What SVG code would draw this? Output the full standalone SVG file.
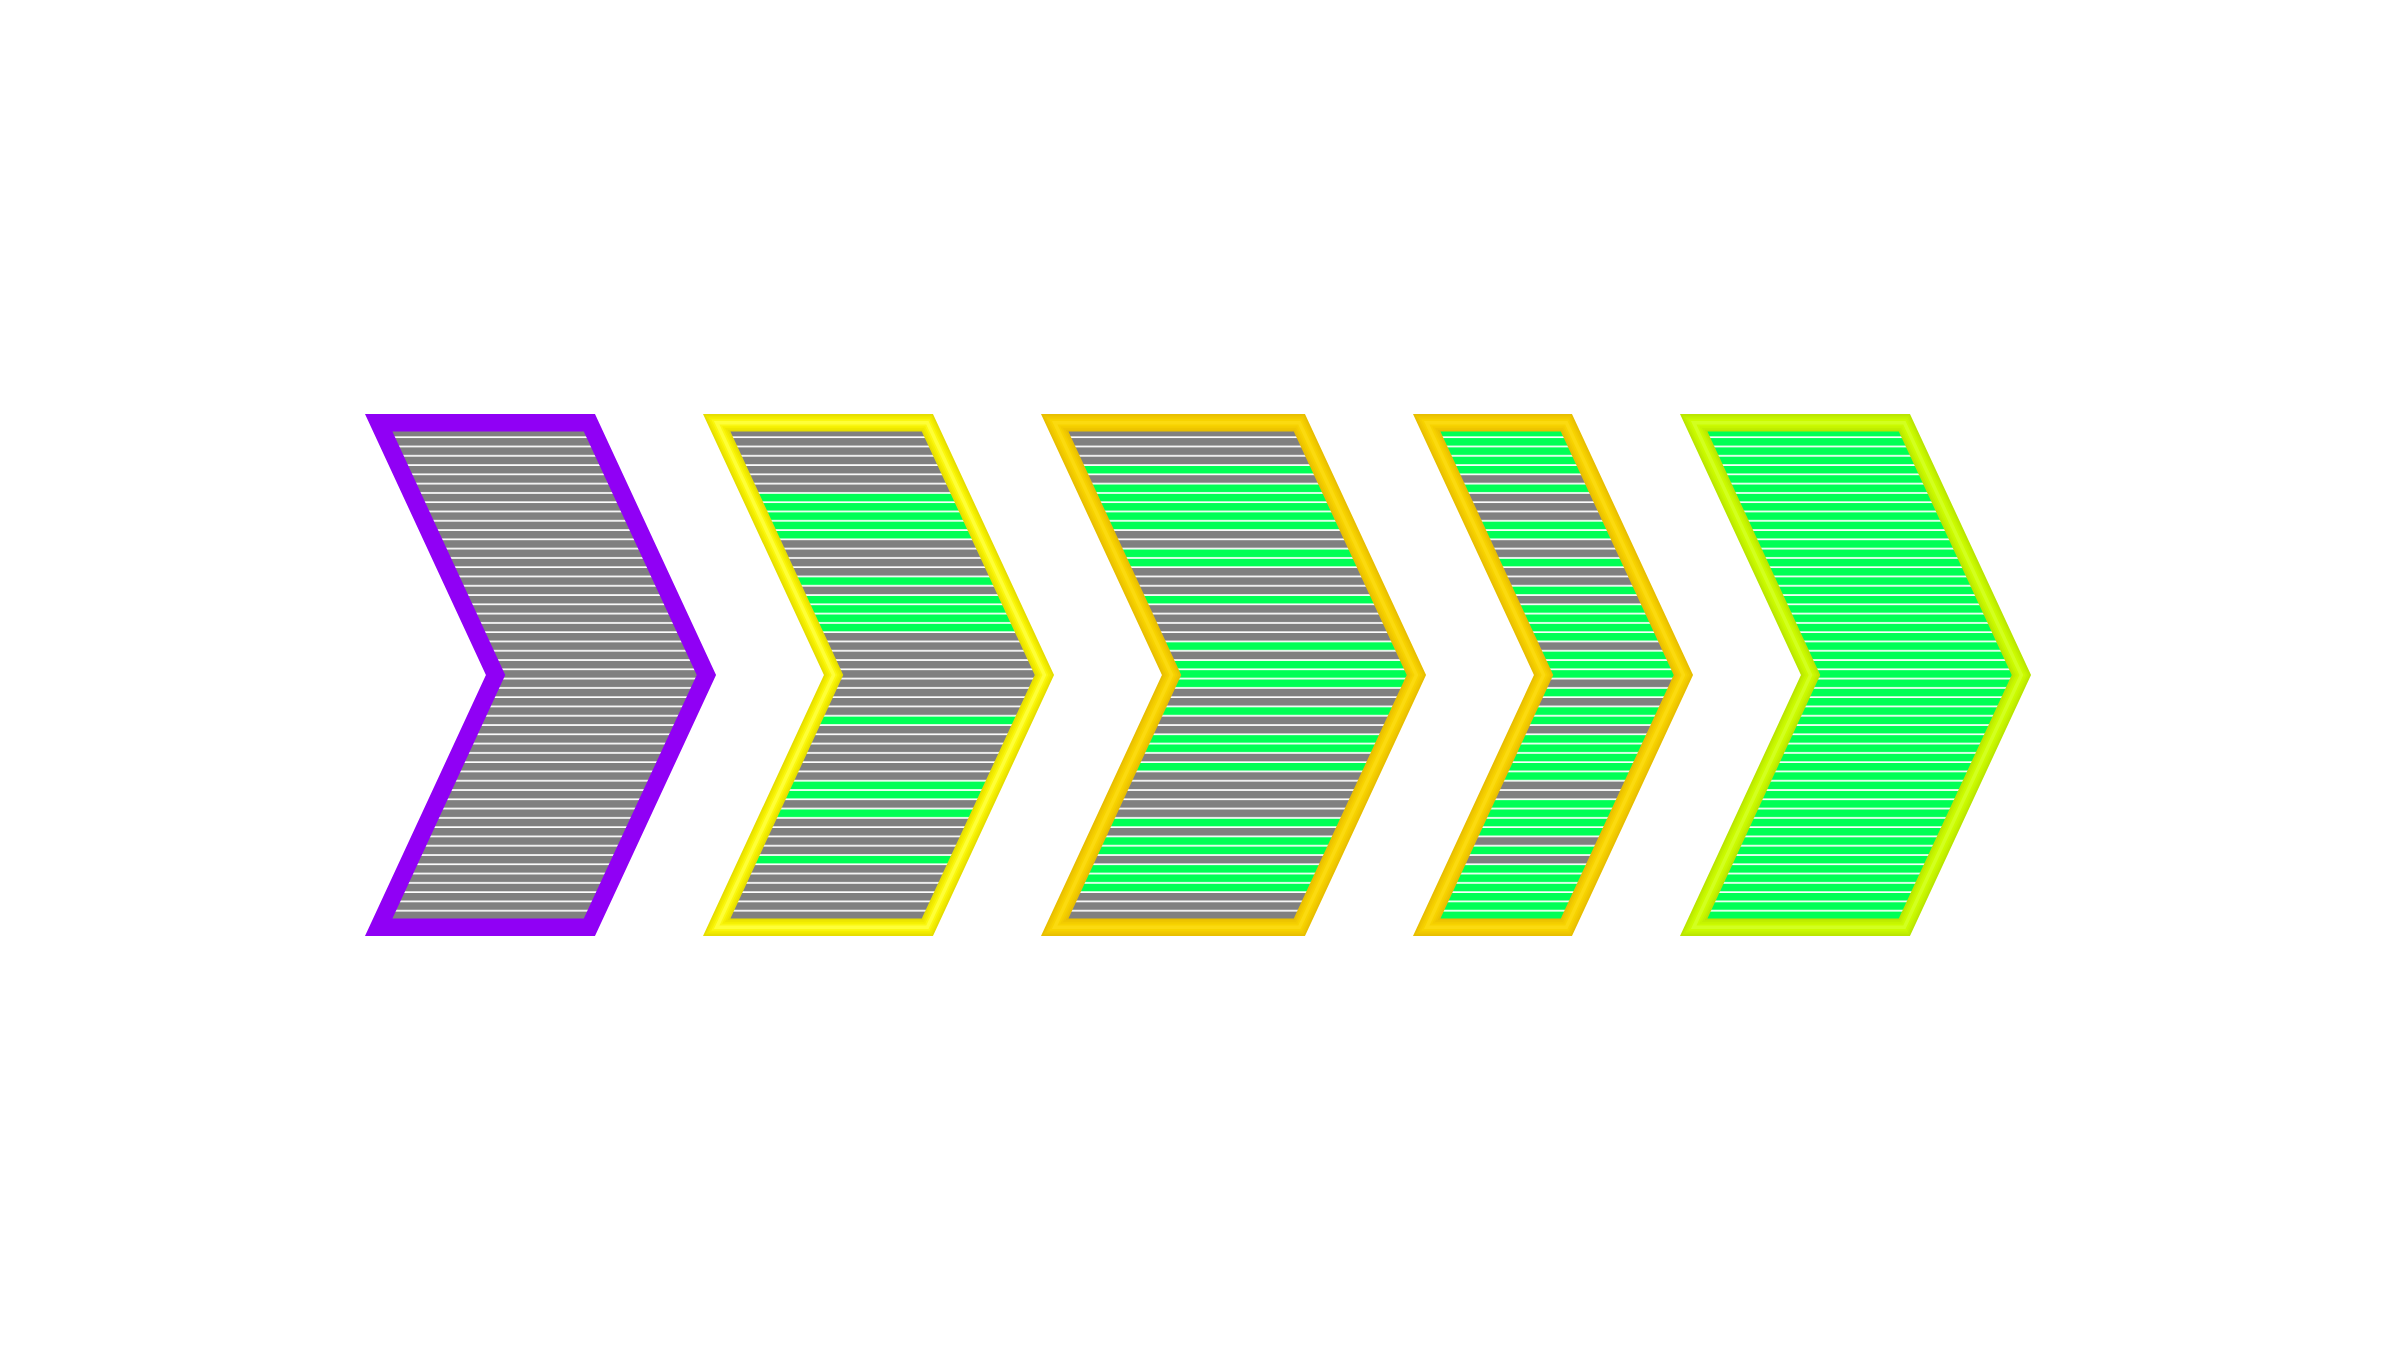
<svg xmlns="http://www.w3.org/2000/svg" width="2400" height="1350" viewBox="0 0 2400 1350">
  <defs>
    <pattern id="grayStripes" patternUnits="userSpaceOnUse" x="0" y="428.8" width="50" height="9.284">
      <rect width="50" height="9.284" fill="#ffffff"/>
      <rect width="50" height="7.6" fill="#808080"/>
    </pattern>
    <pattern id="greenStripes" patternUnits="userSpaceOnUse" x="0" y="428.8" width="50" height="9.284">
      <rect width="50" height="9.284" fill="#ffffff"/>
      <rect width="50" height="7.6" fill="#00ff55"/>
    </pattern>
    <polygon id="shape1" points="378.7,422.75 589.4,422.75 706.4,675 589.4,927.25 378.7,927.25 495.6,675"/>
    <polygon id="shape2" points="716.7,422.75 927.4,422.75 1044.4,675 927.4,927.25 716.7,927.25 833.6,675"/>
    <polygon id="shape3" points="1054.7,422.75 1299.4,422.75 1416.4,675 1299.4,927.25 1054.7,927.25 1171.6,675"/>
    <polygon id="shape4" points="1426.7,422.75 1566.4,422.75 1683.4,675 1566.4,927.25 1426.7,927.25 1543.6,675"/>
    <polygon id="shape5" points="1693.7,422.75 1904.4,422.75 2021.4,675 1904.4,927.25 1693.7,927.25 1810.6,675"/>
    <clipPath id="clip2"><use href="#shape2"/></clipPath>
    <clipPath id="clip3"><use href="#shape3"/></clipPath>
    <clipPath id="clip4"><use href="#shape4"/></clipPath>
  </defs>
  <style>
    .gray { fill: url(#grayStripes); }
    .green { fill: url(#greenStripes); }
    .b { fill: none; stroke-linejoin: miter; stroke-miterlimit: 10; }
    .w1 { stroke-width: 17.5; }
    .w2 { stroke-width: 14; }
    .w3 { stroke-width: 10.5; }
    .w4 { stroke-width: 7; }
    .w5 { stroke-width: 3.5; }
    .purple { stroke: #9000f5; }
    .y1 { stroke: #e6de00; } .y2 { stroke: #eee700; } .y3 { stroke: #f5ef00; } .y4 { stroke: #faf710; } .y5 { stroke: #fefe38; }
    .o1 { stroke: #e8bf00; } .o2 { stroke: #eec600; } .o3 { stroke: #f3cc00; } .o4 { stroke: #f7d300; } .o5 { stroke: #fbda10; }
    .l1 { stroke: #bae600; } .l2 { stroke: #c0ee00; } .l3 { stroke: #c6f500; } .l4 { stroke: #cbfb00; } .l5 { stroke: #d2ff20; }
  </style>
  <rect width="2400" height="1350" fill="#ffffff"/>

  <g id="stage1">
    <use href="#shape1" class="gray"/>
    <use href="#shape1" class="b w1 purple"/>
  </g>

  <g id="stage2">
    <use href="#shape2" class="gray"/>
    <g clip-path="url(#clip2)" class="green">
      <rect x="700" y="492.95" width="360" height="46.42"/>
      <rect x="700" y="576.50" width="360" height="9.284"/>
      <rect x="700" y="595.07" width="360" height="37.136"/>
      <rect x="700" y="715.76" width="360" height="9.284"/>
      <rect x="700" y="780.75" width="360" height="18.568"/>
      <rect x="700" y="808.60" width="360" height="9.284"/>
      <rect x="700" y="855.02" width="360" height="9.284"/>
    </g>
    <use href="#shape2" class="b w1 y1"/>
    <use href="#shape2" class="b w2 y2"/>
    <use href="#shape2" class="b w3 y3"/>
    <use href="#shape2" class="b w4 y4"/>
    <use href="#shape2" class="b w5 y5"/>
  </g>

  <g id="stage3">
    <use href="#shape3" class="gray"/>
    <g clip-path="url(#clip3)" class="green">
      <rect x="1040" y="465.10" width="390" height="9.284"/>
      <rect x="1040" y="483.66" width="390" height="46.42"/>
      <rect x="1040" y="548.65" width="390" height="18.568"/>
      <rect x="1040" y="595.07" width="390" height="9.284"/>
      <rect x="1040" y="641.49" width="390" height="9.284"/>
      <rect x="1040" y="660.06" width="390" height="27.852"/>
      <rect x="1040" y="706.48" width="390" height="9.284"/>
      <rect x="1040" y="734.33" width="390" height="18.568"/>
      <rect x="1040" y="762.18" width="390" height="9.284"/>
      <rect x="1040" y="817.89" width="390" height="9.284"/>
      <rect x="1040" y="836.46" width="390" height="18.568"/>
      <rect x="1040" y="864.31" width="390" height="27.852"/>
    </g>
    <use href="#shape3" class="b w1 o1"/>
    <use href="#shape3" class="b w2 o2"/>
    <use href="#shape3" class="b w3 o3"/>
    <use href="#shape3" class="b w4 o4"/>
    <use href="#shape3" class="b w5 o5"/>
  </g>

  <g id="stage4">
    <use href="#shape4" class="green"/>
    <g clip-path="url(#clip4)" class="gray">
      <rect x="1410" y="474.38" width="290" height="9.284"/>
      <rect x="1410" y="492.95" width="290" height="27.852"/>
      <rect x="1410" y="539.36" width="290" height="18.568"/>
      <rect x="1410" y="567.22" width="290" height="18.568"/>
      <rect x="1410" y="595.07" width="290" height="9.284"/>
      <rect x="1410" y="641.49" width="290" height="9.284"/>
      <rect x="1410" y="678.63" width="290" height="9.284"/>
      <rect x="1410" y="697.20" width="290" height="9.284"/>
      <rect x="1410" y="725.05" width="290" height="9.284"/>
      <rect x="1410" y="780.75" width="290" height="18.568"/>
      <rect x="1410" y="836.46" width="290" height="9.284"/>
      <rect x="1410" y="855.02" width="290" height="9.284"/>
    </g>
    <use href="#shape4" class="b w1 o1"/>
    <use href="#shape4" class="b w2 o2"/>
    <use href="#shape4" class="b w3 o3"/>
    <use href="#shape4" class="b w4 o4"/>
    <use href="#shape4" class="b w5 o5"/>
  </g>

  <g id="stage5">
    <use href="#shape5" class="green"/>
    <use href="#shape5" class="b w1 l1"/>
    <use href="#shape5" class="b w2 l2"/>
    <use href="#shape5" class="b w3 l3"/>
    <use href="#shape5" class="b w4 l4"/>
    <use href="#shape5" class="b w5 l5"/>
  </g>
</svg>
